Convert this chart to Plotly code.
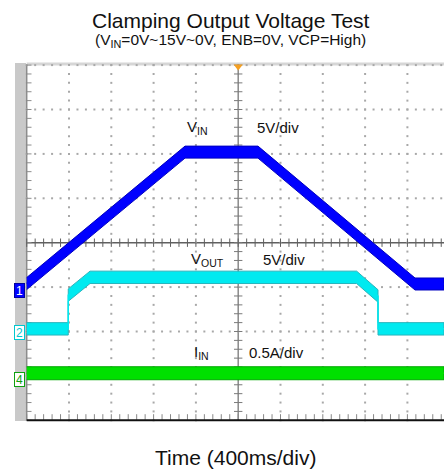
import plotly.graph_objects as go

# ---------------- data (read from the scope capture) ----------------
ms_per_div = 400
# VIN (CH1, 5 V/div)
t_vin_ms = [0, 1497, 2187, 3672, 3946]
vin_v = [0.4, 15.2, 15.2, 0.35, 0.35]
# VOUT (CH2, 5 V/div)
t_vout_ms = [0, 393, 393, 599, 3120, 3322, 3322, 3946]
vout_v = [0.3, 0.3, 4.1, 6.1, 6.1, 4.0, 0.3, 0.3]
# IIN (CH4, 0.5 A/div)
t_iin_ms = [0, 3946]
iin_a = [0.03, 0.03]

ch_names = ["VIN", "VOUT", "IIN"]
ch_scale = [5, 5, 0.5]          # units per div
ch_ground_div = [-1, -2, -3]    # ground marker position (div)

# ---------------- geometry helpers ----------------
W, H = 444, 472
X0, DX = 26.7, 42.3     # px of t=0, px per div
Y0, DY = 242.7, 44.4    # px of centre line, px per div

def px2ms(px):
    return (px - X0) / DX * ms_per_div

def py2div(py):
    return (Y0 - py) / DY

x_range = [px2ms(0), px2ms(W)]
y_range = [py2div(H), py2div(0)]

fig = go.Figure()
FONT = "Liberation Sans, Arial, sans-serif"

# ---------------- graticule ----------------
grid_col = "#a8a8a8"
gx, gy = [], []
for k in range(1, 10):
    if k == 5:
        continue
    for j in range(-20, 21):
        gx.append(k * ms_per_div)
        gy.append(j * 0.2)
for j in range(-3, 4):
    if j == 0:
        continue
    for i in range(0, 51):
        gx.append(i * ms_per_div / 5)
        gy.append(j)
for i in range(0, 51):
    gx.append(i * ms_per_div / 5)
    gy.append(4)
fig.add_trace(go.Scatter(x=gx, y=gy, mode="markers",
                         marker=dict(symbol="square", size=2, color=grid_col, line=dict(width=0)),
                         hoverinfo="skip"))

# left strip
fig.add_shape(type="rect", x0=px2ms(15), x1=px2ms(26), y0=py2div(421), y1=py2div(63),
              fillcolor="#c9c9c9", line=dict(width=0), layer="below")
# top light band
fig.add_shape(type="line", x0=0, x1=x_range[1], y0=py2div(64), y1=py2div(64),
              line=dict(color="#d6d6d6", width=3), layer="below")
# left border
fig.add_shape(type="line", x0=0, x1=0, y0=-4, y1=4,
              line=dict(color="#8c8c8c", width=1.5), layer="below")
# bottom border
fig.add_shape(type="line", x0=0, x1=x_range[1], y0=-4, y1=-4,
              line=dict(color="#111111", width=2))
# centre axes
fig.add_shape(type="line", x0=5 * ms_per_div, x1=5 * ms_per_div, y0=-4, y1=4,
              line=dict(color="#8a8a8a", width=1.5), layer="below")
fig.add_shape(type="line", x0=0, x1=x_range[1], y0=0, y1=0,
              line=dict(color="#606060", width=1.5), layer="below")

# tick marks on centre axes and borders
ty = [j * 0.2 for j in range(-20, 21)]
fig.add_trace(go.Scatter(x=[5 * ms_per_div] * len(ty), y=ty, mode="markers",
                         marker=dict(symbol="line-ew", size=6, line=dict(color="#7a7a7a", width=1)),
                         hoverinfo="skip"))
fig.add_trace(go.Scatter(x=[px2ms(X0 + 2)] * len(ty), y=ty, mode="markers",
                         marker=dict(symbol="line-ew", size=4, line=dict(color="#8c8c8c", width=1)),
                         hoverinfo="skip"))
tx = [i * ms_per_div / 5 for i in range(0, 51)]
fig.add_trace(go.Scatter(x=tx, y=[0] * len(tx), mode="markers",
                         marker=dict(symbol="line-ns", size=6, line=dict(color="#606060", width=1)),
                         hoverinfo="skip"))
fig.add_trace(go.Scatter(x=tx, y=[py2div(417)] * len(tx), mode="markers",
                         marker=dict(symbol="line-ns", size=4, line=dict(color="#888888", width=1)),
                         hoverinfo="skip"))

# ---------------- waveforms (noise band) ----------------
def band(t, v, idx, half_px, fill, edge):
    yd = [ch_ground_div[idx] + val / ch_scale[idx] for val in v]
    h = half_px / DY
    xs = list(t) + list(t)[::-1]
    ys = [y + h for y in yd] + [y - h for y in yd][::-1]
    fig.add_trace(go.Scatter(x=xs, y=ys, mode="lines", fill="toself", fillcolor=fill,
                             line=dict(color=edge, width=1), hoverinfo="skip"))
    fig.add_trace(go.Scatter(x=t, y=yd, mode="lines", line=dict(color=fill, width=1.5),
                             hoverinfo="skip"))

band(t_iin_ms, iin_a, 2, 6.5, "#00e000", "#00a800")
band(t_vout_ms, vout_v, 1, 6.2, "#00eaf0", "#28b4bc")
band(t_vin_ms, vin_v, 0, 6.0, "#0000ff", "#0000c0")

# trigger marker
fig.add_trace(go.Scatter(x=[5 * ms_per_div], y=[py2div(66.5)], mode="markers",
                         marker=dict(symbol="triangle-down", size=8, color="#f5a021", line=dict(width=0)),
                         hoverinfo="skip"))

# ---------------- annotations ----------------
ann = []
lab_font = dict(family=FONT, size=15, color="#111111")
labels = [
    ("V<sub>IN</sub>", 185, 127), ("5V/div", 255, 127),
    ("V<sub>OUT</sub>", 189, 259), ("5V/div", 261, 259),
    ("I<sub>IN</sub>", 192, 352), ("0.5A/div", 247, 352),
]
for txt, px, py in labels:
    ann.append(dict(x=px2ms(px), y=py2div(py), xref="x", yref="y", text=txt, showarrow=False,
                    xanchor="left", yanchor="middle", font=lab_font))

# channel markers on the strip
marks = [("1", 290, "#0000ff", "#ffffff", "#0000a0"),
         ("2", 332, "#ffffff", "#00c8d0", "#00c8d0"),
         ("4", 379, "#ffffff", "#10a010", "#10a010")]
for txt, py, bg, fc, bc in marks:
    ann.append(dict(x=px2ms(19.5), y=py2div(py), xref="x", yref="y", text=txt, showarrow=False,
                    xanchor="center", yanchor="middle", bgcolor=bg, bordercolor=bc, borderwidth=1,
                    borderpad=0, width=9, height=13,
                    font=dict(family=FONT, size=12, color=fc)))

title_font = dict(family=FONT, size=21, color="#111111")
ann.append(dict(x=231.5 / W, y=1 - 20.5 / H, xref="paper", yref="paper", showarrow=False,
                text="Clamping Output Voltage Test", xanchor="center", yanchor="middle", font=title_font))
ann.append(dict(x=230.5 / W, y=1 - 41 / H, xref="paper", yref="paper", showarrow=False,
                text="(V<sub>IN</sub>=0V~15V~0V, ENB=0V, VCP=High)", xanchor="center", yanchor="middle",
                font=dict(family=FONT, size=15.5, color="#111111")))
ann.append(dict(x=235.5 / W, y=1 - 457 / H, xref="paper", yref="paper", showarrow=False,
                text="Time (400ms/div)", xanchor="center", yanchor="middle", font=title_font))

fig.update_layout(
    width=W, height=H, margin=dict(l=0, r=0, t=0, b=0),
    paper_bgcolor="white", plot_bgcolor="white", showlegend=False,
    hovermode=False, annotations=ann,
    xaxis=dict(range=x_range, visible=False, fixedrange=True),
    yaxis=dict(range=y_range, visible=False, fixedrange=True),
)

fig.write_html("out.html")
